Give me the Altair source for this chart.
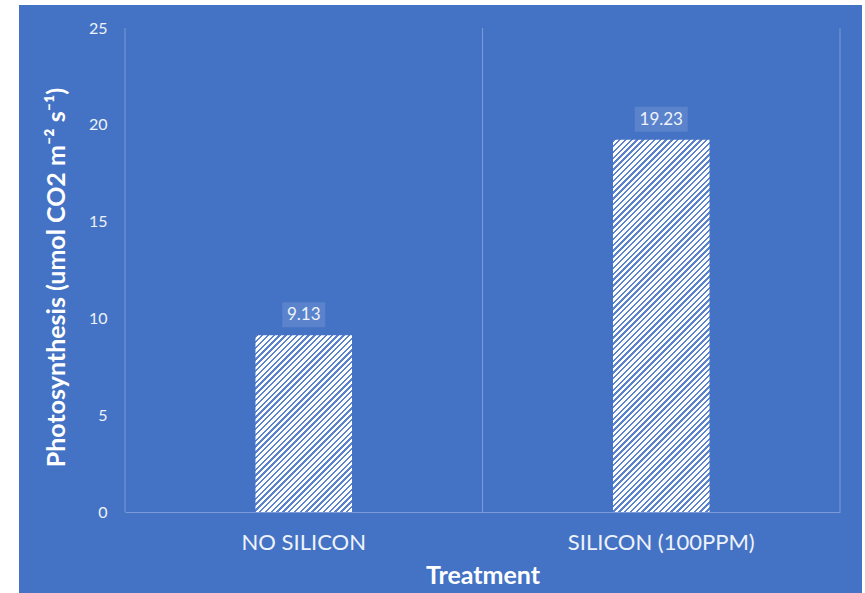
import math
import altair as alt
import pandas as pd

# Net photosynthesis by treatment
treatments = ["NO SILICON", "SILICON (100PPM)"]
photosynthesis = [9.13, 19.23]

BG = "#4472C4"
LINE = "#7b9ad6"
TEXT = "#eef2fa"
FONT = "Lato"

W, H = 715, 484          # plot area
Y_MAX = 25
BAR_BAND = 0.27          # bar width relative to the category band
HATCH_PERIOD = 5.8       # px between hatch lines (horizontal)
HATCH_FILL = 0.40        # share of each period painted blue

df = pd.DataFrame({"treatment": treatments, "value": photosynthesis})
df["label"] = df["value"].map(lambda v: f"{v:.2f}")

x_scale = alt.Scale(domain=treatments, paddingInner=0, paddingOuter=0)
y_scale = alt.Scale(domain=[0, Y_MAX], nice=False)

x_axis = alt.Axis(
    title="Treatment", labelAngle=0, ticks=False, tickSize=0, grid=False, zindex=1,
    domainColor=LINE, domainWidth=1, labelColor=TEXT, labelFont=FONT,
    labelFontSize=22, labelPadding=20, labelBaseline="top", labelLimit=400,
    titleColor="white", titleFont=FONT, titleFontSize=25, titleFontWeight="bold",
    titleY=71, titleBaseline="alphabetic",
)
y_axis = alt.Axis(
    title="Photosynthesis (umol CO2 m⁻² s⁻¹)", values=[0, 5, 10, 15, 20, 25],
    ticks=False, tickSize=0, domain=False, grid=False, zindex=1,
    labelColor=TEXT, labelFont=FONT, labelFontSize=16, labelPadding=18,
    titleColor="white", titleFont=FONT, titleFontSize=25, titleFontWeight="bold",
    titleX=-61, titleY=249, titleBaseline="alphabetic",
)


def xenc(**kw):
    return alt.X("treatment:N", scale=x_scale, axis=x_axis, **kw)


def yenc():
    return alt.Y("value:Q", scale=y_scale, axis=y_axis)


base = alt.Chart(df)

# blue panel behind everything (extends past the plot area)
panel = alt.Chart(pd.DataFrame({"p": [0]})).mark_rect(color=BG).encode(
    x=alt.value(19 - 125), x2=alt.value(862 - 125),
    y=alt.value(5 - 28), y2=alt.value(593 - 28),
)

# vertical separators at the category boundaries
grid_start = base.mark_rule(color=LINE, strokeWidth=1).encode(x=xenc(bandPosition=0))
grid_end = base.mark_rule(color=LINE, strokeWidth=1).encode(x=xenc(bandPosition=1))


def hatch(value):
    """Diagonal '/' hatch as a striped linear gradient sized to the bar."""
    w = BAR_BAND * W / len(treatments)
    h = value / Y_MAX * H
    c = (w + h) / (w * w + h * h)
    n = (w + h) / HATCH_PERIOD
    stops = []
    for k in range(math.ceil(n)):
        a = k / n
        b = min((k + HATCH_FILL) / n, 1.0)
        e = min((k + 1) / n, 1.0)
        if a >= 1:
            break
        stops += [
            alt.GradientStop(color="#5b83cc", offset=a),
            alt.GradientStop(color="#5b83cc", offset=b),
        ]
        if b < 1:
            stops += [
                alt.GradientStop(color="white", offset=b),
                alt.GradientStop(color="white", offset=e),
            ]
    return alt.LinearGradient(gradient="linear", stops=stops, x1=0, y1=0, x2=w * c, y2=h * c)


layers = [panel, grid_start, grid_end]

for t, v, lab in zip(treatments, photosynthesis, df["label"]):
    sub = base.transform_filter(alt.datum.treatment == t)
    bar = sub.mark_bar(width={"band": BAR_BAND}, fill=hatch(v)).encode(x=xenc(), y=yenc())
    box = sub.mark_bar(width=10 * len(lab) + 3, color="#5a83cc", yOffset=-8, y2Offset=-33).encode(
        x=xenc(), y=yenc(), y2="value:Q"
    )
    layers += [bar, box]

labels = base.mark_text(
    dy=-20, baseline="middle", color=TEXT, font=FONT, fontSize=17
).encode(x=xenc(), y=yenc(), text="label:N")
layers.append(labels)

chart = (
    alt.layer(*layers)
    .properties(
        width=W, height=H,
        autosize=alt.AutoSizeParams(type="none"),
        padding={"left": 125, "top": 28, "right": 25, "bottom": 81},
        background="white",
    )
    .configure_view(stroke=None)
)

chart.save("out.html", embed_options={"renderer": "svg", "actions": False})
